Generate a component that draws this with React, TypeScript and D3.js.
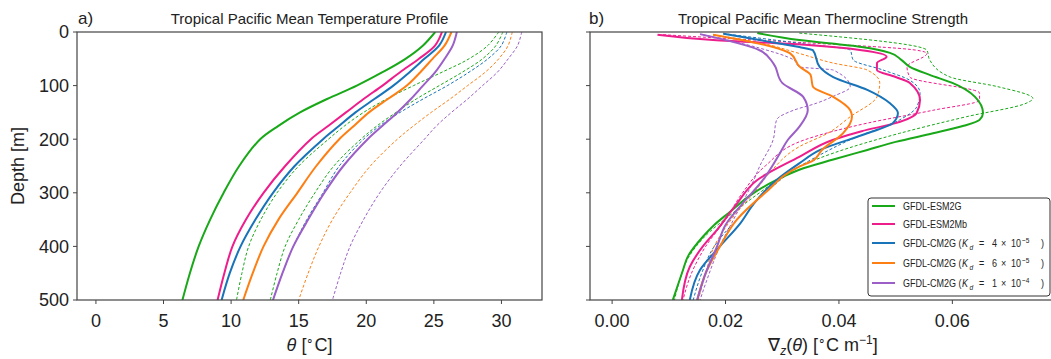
import * as d3 from "d3";

// ---- data ----
const tempDepths = [0, 25, 50, 75, 100, 125, 150, 175, 200, 250, 300, 350, 400, 450, 500];

const tempEsm2g = [25.1, 24.2, 22.9, 21.2, 19.3, 17.1, 15.1, 13.5, 12.15, 10.6, 9.45, 8.45, 7.6, 6.95, 6.4];
const tempEsm2mb = [25.6, 25.1, 23.9, 22.5, 21.2, 19.8, 18.5, 17.2, 15.9, 14.0, 12.4, 11.1, 10.1, 9.5, 9.0];
const tempCm2g4 = [25.9, 25.4, 24.3, 23.2, 22.0, 20.6, 19.2, 18.0, 16.8, 14.7, 13.1, 11.8, 10.7, 9.9, 9.3];
const tempCm2g6 = [26.3, 25.8, 24.9, 24.0, 23.0, 21.6, 20.2, 19.1, 18.0, 16.3, 14.9, 13.5, 12.4, 11.6, 10.9];
const tempCm2g1 = [26.7, 26.4, 25.8, 25.1, 24.2, 23.3, 22.3, 21.2, 20.1, 18.3, 16.9, 15.7, 14.6, 13.8, 13.1];

const tempEsm2gDash = [29.8, 29.0, 27.6, 25.6, 23.5, 21.5, 19.8, 18.4, 17.2, 15.0, 13.4, 12.2, 11.3, 10.8, 10.4];
const tempEsm2gDash2 = [30.1, 29.6, 28.6, 27.1, 25.4, 23.7, 22.2, 20.8, 19.6, 17.6, 16.2, 15.0, 14.0, 13.4, 12.9];
const tempCm2g4Dash = [30.4, 30.0, 29.0, 27.6, 26.0, 24.2, 22.5, 21.0, 19.8, 18.0, 16.8, 15.6, 14.6, 13.8, 13.1];
const tempCm2g6Dash = [30.8, 30.5, 29.8, 28.8, 27.5, 26.2, 24.8, 23.5, 22.3, 20.3, 18.8, 17.5, 16.5, 15.7, 15.0];
const tempCm2g1Dash = [31.5, 31.2, 30.5, 29.7, 28.6, 27.5, 26.3, 25.2, 24.3, 22.5, 21.0, 19.8, 18.8, 18.1, 17.5];

// thermocline strength: [depth, gradient]
const gradEsm2g: [number, number][] = [
  [2, 0.0256], [15, 0.033], [28, 0.044], [39, 0.049], [52, 0.051], [65, 0.0525], [80, 0.056],
  [95, 0.06], [121, 0.064], [151, 0.0654], [164, 0.0648], [175, 0.062], [189, 0.0566], [205, 0.05],
  [220, 0.045], [238, 0.039], [257, 0.033], [276, 0.029], [300, 0.025], [338, 0.0205], [360, 0.018],
  [382, 0.016], [420, 0.0133], [444, 0.0125], [500, 0.0107],
];
const gradEsm2mb: [number, number][] = [
  [5, 0.008], [15, 0.0178], [24, 0.034], [34, 0.044], [46, 0.0484], [58, 0.0467], [71, 0.0467],
  [84, 0.05], [95, 0.0525], [127, 0.0543], [151, 0.0537], [170, 0.05], [185, 0.044], [201, 0.039],
  [233, 0.033], [276, 0.0256], [320, 0.022], [369, 0.0185], [400, 0.016], [438, 0.0137], [500, 0.0123],
];
const gradCm2g4: [number, number][] = [
  [3, 0.0196], [15, 0.026], [28, 0.033], [34, 0.0354], [65, 0.0366], [84, 0.039], [108, 0.045],
  [133, 0.049], [151, 0.0504], [170, 0.0495], [189, 0.045], [220, 0.0367], [245, 0.033], [276, 0.029],
  [320, 0.025], [357, 0.0226], [400, 0.019], [444, 0.0155], [500, 0.0137],
];
const gradCm2g6: [number, number][] = [
  [5, 0.0178], [28, 0.0284], [40, 0.0314], [65, 0.0331], [80, 0.035], [102, 0.0354], [121, 0.039],
  [146, 0.042], [158, 0.0423], [189, 0.0407], [220, 0.037], [240, 0.0354], [251, 0.033], [300, 0.027],
  [350, 0.022], [400, 0.019], [450, 0.0165], [500, 0.015],
];
const gradCm2g1: [number, number][] = [
  [4, 0.0155], [34, 0.026], [58, 0.0284], [95, 0.03], [121, 0.0337], [146, 0.0345], [177, 0.033],
  [201, 0.031], [226, 0.0296], [276, 0.0266], [320, 0.023], [360, 0.02], [400, 0.0185], [450, 0.0165],
  [500, 0.015],
];
const gradEsm2gDash: [number, number][] = [
  [2, 0.033], [34, 0.0555], [52, 0.056], [84, 0.0596], [102, 0.068], [124, 0.0742], [133, 0.073],
  [158, 0.0625], [189, 0.0507], [226, 0.039], [251, 0.033], [300, 0.026], [340, 0.021], [380, 0.0165],
  [420, 0.0135], [460, 0.012], [500, 0.011],
];
const gradEsm2mbDash: [number, number][] = [
  [5, 0.009], [12, 0.02], [20, 0.034], [34, 0.0537], [40, 0.0555], [65, 0.052], [84, 0.0525],
  [114, 0.0648], [127, 0.0648], [146, 0.0566], [170, 0.045], [201, 0.034], [250, 0.027], [300, 0.023],
  [350, 0.02], [400, 0.0165], [450, 0.014], [500, 0.0125],
];
const gradCm2g4Dash: [number, number][] = [
  [3, 0.0196], [21, 0.033], [34, 0.042], [52, 0.0425], [71, 0.0478], [90, 0.0525], [114, 0.0543],
  [140, 0.0537], [164, 0.0507], [201, 0.042], [233, 0.036], [251, 0.033], [300, 0.027], [350, 0.022],
  [400, 0.018], [450, 0.0158], [500, 0.0143],
];
const gradCm2g6Dash: [number, number][] = [
  [5, 0.0178], [20, 0.026], [40, 0.033], [58, 0.039], [71, 0.045], [95, 0.0472], [121, 0.0467],
  [158, 0.042], [189, 0.038], [214, 0.033], [260, 0.028], [300, 0.025], [350, 0.021], [400, 0.018],
  [450, 0.0165], [500, 0.0152],
];
const gradCm2g1Dash: [number, number][] = [
  [5, 0.016], [30, 0.026], [52, 0.032], [65, 0.033], [71, 0.039], [102, 0.042], [120, 0.039],
  [133, 0.036], [146, 0.032], [164, 0.029], [201, 0.0284], [251, 0.026], [276, 0.025], [338, 0.022],
  [400, 0.019], [463, 0.0167], [500, 0.0155],
];

const depthTicks = [0, 100, 200, 300, 400, 500];
const tempTicks = [0, 5, 10, 15, 20, 25, 30];
const gradTicks = [0, 0.02, 0.04, 0.06];

const GREEN = "#18a818";
const PINK = "#ee1d8c";
const BLUE = "#1873b8";
const ORANGE = "#fd7f14";
const PURPLE = "#9b5fc7";

const legendNames = ["GFDL-ESM2G", "GFDL-ESM2Mb", "GFDL-CM2G (", "GFDL-CM2G (", "GFDL-CM2G ("];
const legendCoef = ["", "", "4", "6", "1"];
const legendExp = ["", "", "\u22125", "\u22125", "\u22124"];
const legendColors = [GREEN, PINK, BLUE, ORANGE, PURPLE];

const FONT = "'Liberation Sans', Arial, Helvetica, sans-serif";
const INK = "#222";

export default function App() {
  const W = 1051;
  const H = 359;
  const top = 32;
  const bottom = 300;
  const aLeft = 77;
  const aRight = 542;
  const bLeft = 590;
  const bRight = 1055;

  const y = d3.scaleLinear().domain([0, 500]).range([top, bottom]);
  const xA = d3.scaleLinear().domain([-1.4, 33]).range([aLeft, aRight]);
  const xB = d3.scaleLinear().domain([-0.0039, 0.0781]).range([bLeft, bRight]);

  const tempLine = d3
    .line<number>()
    .x((d) => xA(d))
    .y((_, i) => y(tempDepths[i]))
    .curve(d3.curveCatmullRom.alpha(0.5));

  const gradLine = d3
    .line<[number, number]>()
    .x((d) => xB(d[1]))
    .y((d) => y(d[0]))
    .curve(d3.curveMonotoneY);

  const tempDashed = [
    { v: tempEsm2gDash, c: GREEN },
    { v: tempEsm2gDash2, c: GREEN },
    { v: tempCm2g4Dash, c: BLUE },
    { v: tempCm2g6Dash, c: ORANGE },
    { v: tempCm2g1Dash, c: PURPLE },
  ];
  const tempSolid = [
    { v: tempEsm2g, c: GREEN },
    { v: tempEsm2mb, c: PINK },
    { v: tempCm2g4, c: BLUE },
    { v: tempCm2g6, c: ORANGE },
    { v: tempCm2g1, c: PURPLE },
  ];
  const gradDashed = [
    { v: gradEsm2gDash, c: GREEN },
    { v: gradEsm2mbDash, c: PINK },
    { v: gradCm2g4Dash, c: BLUE },
    { v: gradCm2g6Dash, c: ORANGE },
    { v: gradCm2g1Dash, c: PURPLE },
  ];
  const gradSolid = [
    { v: gradEsm2g, c: GREEN },
    { v: gradEsm2mb, c: PINK },
    { v: gradCm2g4, c: BLUE },
    { v: gradCm2g6, c: ORANGE },
    { v: gradCm2g1, c: PURPLE },
  ];

  const legX = 868;
  const legY = 198;
  const legW = 182;
  const legH = 98;
  const legRows = [206, 224, 243, 263, 283];
  const LF = 11;
  const LS = 8;
  const SQ = 0.82; // legend font is condensed
  const lx = (px: number) => (px - 903) / SQ;

  return (
    <div style={{ position: "absolute", left: 0, top: 0 }}>
      <svg width={W} height={H} style={{ display: "block", background: "#fff" }} fontFamily={FONT}>
        <defs>
          <clipPath id="clipA">
            <rect x={aLeft} y={top} width={aRight - aLeft} height={bottom - top} />
          </clipPath>
          <clipPath id="clipB">
            <rect x={bLeft} y={top} width={bRight - bLeft} height={bottom - top} />
          </clipPath>
        </defs>

        {/* panel a */}
        <g clipPath="url(#clipA)">
          {tempDashed.map((s, i) => (
            <path key={"ad" + i} d={tempLine(s.v) || ""} fill="none" stroke={s.c} strokeWidth={1} strokeDasharray="3,2" />
          ))}
          {tempSolid.map((s, i) => (
            <path key={"as" + i} d={tempLine(s.v) || ""} fill="none" stroke={s.c} strokeWidth={2} />
          ))}
        </g>
        <rect x={aLeft} y={top} width={aRight - aLeft} height={bottom - top} fill="none" stroke="#444" strokeWidth={1.2} />
        {depthTicks.map((t) => (
          <g key={"ya" + t}>
            <line x1={aLeft - 4} x2={aLeft} y1={y(t)} y2={y(t)} stroke="#444" strokeWidth={1} />
            <text x={aLeft - 8} y={y(t)} dy="0.36em" textAnchor="end" fontSize={18} fill={INK}>
              {t}
            </text>
          </g>
        ))}
        {tempTicks.map((t) => (
          <g key={"xa" + t}>
            <line x1={xA(t)} x2={xA(t)} y1={bottom} y2={bottom + 4} stroke="#444" strokeWidth={1} />
            <text x={xA(t)} y={327} textAnchor="middle" fontSize={18} fill={INK}>
              {t}
            </text>
          </g>
        ))}
        <text x={(aLeft + aRight) / 2} y={351} textAnchor="middle" fontSize={18} fill={INK}>
          <tspan fontStyle="italic">θ</tspan>
          <tspan> [</tspan>
          <tspan fontSize={12} dy={-6}>∘</tspan>
          <tspan dy={6}>C]</tspan>
        </text>
        <text transform={`translate(24,${(top + bottom) / 2}) rotate(-90)`} textAnchor="middle" fontSize={18} fill={INK}>
          Depth [m]
        </text>
        <text x={78} y={24} fontSize={17} fill={INK}>a)</text>
        <text x={(aLeft + aRight) / 2} y={24} textAnchor="middle" fontSize={15} fill={INK}>
          Tropical Pacific Mean Temperature Profile
        </text>

        {/* panel b */}
        <g clipPath="url(#clipB)">
          {gradDashed.map((s, i) => (
            <path key={"bd" + i} d={gradLine(s.v) || ""} fill="none" stroke={s.c} strokeWidth={1} strokeDasharray="3,2" />
          ))}
          {gradSolid.map((s, i) => (
            <path key={"bs" + i} d={gradLine(s.v) || ""} fill="none" stroke={s.c} strokeWidth={2} />
          ))}
        </g>
        <rect x={bLeft} y={top} width={bRight - bLeft} height={bottom - top} fill="none" stroke="#444" strokeWidth={1.2} />
        {depthTicks.map((t) => (
          <line key={"yb" + t} x1={bLeft - 4} x2={bLeft} y1={y(t)} y2={y(t)} stroke="#444" strokeWidth={1} />
        ))}
        {gradTicks.map((t) => (
          <g key={"xb" + t}>
            <line x1={xB(t)} x2={xB(t)} y1={bottom} y2={bottom + 4} stroke="#444" strokeWidth={1} />
            <text x={xB(t)} y={327} textAnchor="middle" fontSize={18} fill={INK}>
              {t.toFixed(2)}
            </text>
          </g>
        ))}
        <text x={823} y={351} textAnchor="middle" fontSize={18} fill={INK}>
          <tspan>∇</tspan>
          <tspan fontStyle="italic" fontSize={12} dy={4}>z</tspan>
          <tspan dy={-4}>(</tspan>
          <tspan fontStyle="italic">θ</tspan>
          <tspan>) [</tspan>
          <tspan fontSize={12} dy={-6}>∘</tspan>
          <tspan dy={6}>C m</tspan>
          <tspan fontSize={12} dy={-7}>−1</tspan>
          <tspan dy={7}>]</tspan>
        </text>
        <text x={589} y={24} fontSize={17} fill={INK}>b)</text>
        <text x={823} y={24} textAnchor="middle" fontSize={15} fill={INK}>
          Tropical Pacific Mean Thermocline Strength
        </text>

        {/* legend */}
        <rect x={legX} y={legY} width={legW} height={legH} rx={3} fill="#fff" stroke="#333" strokeWidth={1} />
        {legendNames.map((name, i) => {
          const ly = legRows[i];
          return (
            <g key={"leg" + i}>
              <line x1={872} x2={895} y1={ly} y2={ly} stroke={legendColors[i]} strokeWidth={2} />
              <g transform={`translate(903,${ly + 4}) scale(${SQ},1)`} fill={INK} fontSize={LF}>
                <text x={0} y={0}>{name}</text>
                {legendCoef[i] && (
                  <>
                    <text x={lx(962)} y={0} fontStyle="italic">K</text>
                    <text x={lx(969.5)} y={2.5} fontStyle="italic" fontSize={LS}>d</text>
                    <text x={lx(979)} y={0}>=</text>
                    <text x={lx(992)} y={0}>{legendCoef[i]}</text>
                    <text x={lx(1001)} y={0}>×</text>
                    <text x={lx(1011)} y={0}>10</text>
                    <text x={lx(1022)} y={-4.5} fontSize={LS}>{legendExp[i]}</text>
                    <text x={lx(1041)} y={0}>)</text>
                  </>
                )}
              </g>
            </g>
          );
        })}
      </svg>
    </div>
  );
}
